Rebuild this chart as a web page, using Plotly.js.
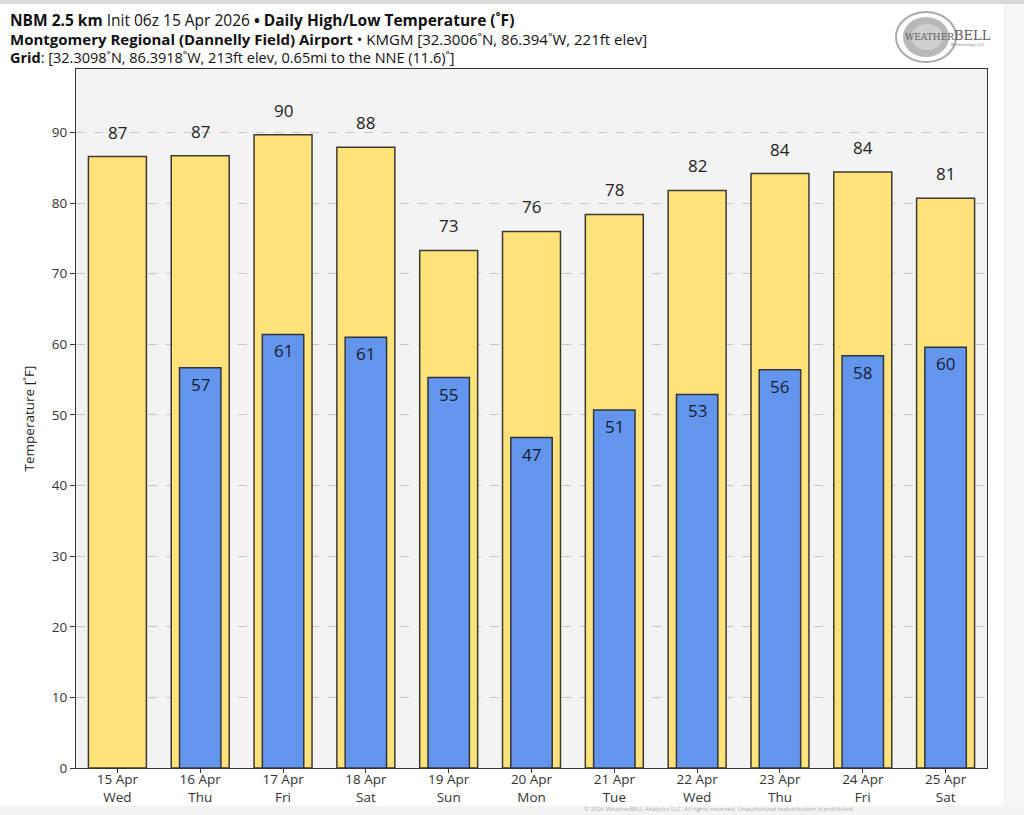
<!DOCTYPE html>
<html>
<head>
<meta charset="utf-8">
<script src="https://cdn.plot.ly/plotly-3.0.1.min.js"></script>
<style>
html,body{margin:0;padding:0;background:#fff;}
#chart{width:1024px;height:815px;}
</style>
</head>
<body>
<div id="chart"></div>
<script>
var dates = ["15 Apr","16 Apr","17 Apr","18 Apr","19 Apr","20 Apr","21 Apr","22 Apr","23 Apr","24 Apr","25 Apr"];
var weekdays = ["Wed","Thu","Fri","Sat","Sun","Mon","Tue","Wed","Thu","Fri","Sat"];
var highs = [86.6, 86.7, 89.7, 87.9, 73.3, 76.0, 78.4, 81.8, 84.2, 84.4, 80.7];
var lows = [null, 56.7, 61.4, 61.0, 55.3, 46.8, 50.7, 52.9, 56.4, 58.4, 59.6];
var yTicks = [0,10,20,30,40,50,60,70,80,90];

var idx = dates.map(function(d,i){return i;});
var tickText = dates.map(function(d,i){return d + "<br>" + weekdays[i];});
var FONT = "Open Sans, Noto Sans, sans-serif";

var traces = [
  {type:"bar", x:idx, y:highs, width:0.7, name:"High",
   marker:{color:"#ffe27a", line:{color:"#3d3a32", width:1.5}}, hoverinfo:"y"},
  {type:"bar", x:idx, y:lows, width:0.5, name:"Low",
   marker:{color:"#6495ed", line:{color:"#2f3540", width:1.5}}, hoverinfo:"y"}
];

var ann = [];
highs.forEach(function(v,i){
  ann.push({x:i, y:v, xref:"x", yref:"y", text:String(Math.round(v)), showarrow:false,
    yanchor:"bottom", yshift:11, font:{family:FONT, size:17, color:"#222"}});
});
lows.forEach(function(v,i){
  if (v === null) return;
  ann.push({x:i, y:v, xref:"x", yref:"y", text:String(Math.round(v)), showarrow:false,
    yanchor:"top", yshift:-3, font:{family:FONT, size:17, color:"#161c30"}});
});

function py(p){return (768-p)/699;}
function px(p){return (p-76)/911;}

var titleLines = [
  "<b>NBM 2.5 km</b> Init 06z 15 Apr 2026 <b>• Daily High/Low Temperature (˚F)</b>",
  "<b>Montgomery Regional (Dannelly Field) Airport</b> • KMGM [32.3006˚N, 86.394˚W, 221ft elev]",
  "<b>Grid</b>: [32.3098˚N, 86.3918˚W, 213ft elev, 0.65mi to the NNE (11.6)˚]"
];
var lineY = [20, 39, 57];
var lineSize = [15.5, 15, 14.5];
titleLines.forEach(function(t,i){
  ann.push({xref:"paper", yref:"paper", x:px(8), y:py(lineY[i]), xanchor:"left", yanchor:"middle",
    text:t, showarrow:false, font:{family:FONT, size:lineSize[i], color:"#111"}});
});

// logo text
ann.push({xref:"paper", yref:"paper", x:px(948), y:py(36), xanchor:"center", yanchor:"middle",
  text:"<span style='font-size:9px'>WEATHER</span>BELL", showarrow:false,
  font:{family:"DejaVu Serif, serif", size:13, color:"#5e5e5e"}});
ann.push({xref:"paper", yref:"paper", x:px(968), y:py(45), xanchor:"center", yanchor:"middle",
  text:"Meteorology LLC", showarrow:false,
  font:{family:"DejaVu Sans, sans-serif", size:4, color:"#888"}});
// copyright (faint, at the very bottom)
ann.push({xref:"paper", yref:"paper", x:px(582), y:py(815), xanchor:"left", yanchor:"bottom",
  text:"© 2026 WeatherBELL Analytics LLC. All rights reserved. Unauthorized redistribution is prohibited.", showarrow:false,
  font:{family:FONT, size:6, color:"#b0b0b0"}});

var shapes = [
  {type:"rect", xref:"paper", yref:"paper", x0:px(1003), x1:px(1024), y0:py(815), y1:py(0), fillcolor:"#f6f6f6", line:{width:0}, layer:"below"},
  {type:"rect", xref:"paper", yref:"paper", x0:px(0), x1:px(1024), y0:py(4), y1:py(0), fillcolor:"#d8d8d8", line:{width:0}, layer:"below"},
  {type:"rect", xref:"paper", yref:"paper", x0:px(0), x1:px(1024), y0:py(815), y1:py(806), fillcolor:"#f3f3f3", line:{width:0}, layer:"below"},
  // logo swirl
  {type:"circle", xref:"paper", yref:"paper", x0:px(896), x1:px(956), y0:py(62), y1:py(12), line:{color:"#a9a9a9", width:2}, fillcolor:"rgba(0,0,0,0)", layer:"below"},
  {type:"circle", xref:"paper", yref:"paper", x0:px(903), x1:px(949), y0:py(57), y1:py(17), line:{width:0}, fillcolor:"#b8b8b8", layer:"below"},
  {type:"circle", xref:"paper", yref:"paper", x0:px(911), x1:px(943), y0:py(50), y1:py(24), line:{width:0}, fillcolor:"#cfcfcf", layer:"below"}
];

var layout = {
  width:1024, height:815,
  margin:{l:76, r:37, t:69, b:47},
  paper_bgcolor:"#ffffff",
  plot_bgcolor:"#f3f3f3",
  barmode:"overlay",
  showlegend:false,
  font:{family:FONT, size:13, color:"#333"},
  xaxis:{range:[-0.5,10.5], tickmode:"array", tickvals:idx, ticktext:tickText,
    showgrid:false, zeroline:false, showline:true, linecolor:"#333", linewidth:1, mirror:true,
    ticks:"outside", ticklen:4, tickcolor:"#333", ticklabelstandoff:-5,
    tickfont:{family:FONT, size:13.5, color:"#333"}},
  yaxis:{range:[0,99], tickmode:"array", tickvals:yTicks,
    showgrid:true, gridcolor:"#c8c8c8", griddash:"dash", gridwidth:1, zeroline:false,
    showline:true, linecolor:"#333", linewidth:1, mirror:true,
    ticks:"outside", ticklen:5, tickcolor:"#333", tickfont:{family:FONT, size:13.5, color:"#333"},
    title:{text:"Temperature [˚F]", font:{family:FONT, size:13.5, color:"#222"}, standoff:14}},
  annotations:ann,
  shapes:shapes
};

Plotly.newPlot("chart", traces, layout, {displayModeBar:false, staticPlot:true});
</script>
</body>
</html>
